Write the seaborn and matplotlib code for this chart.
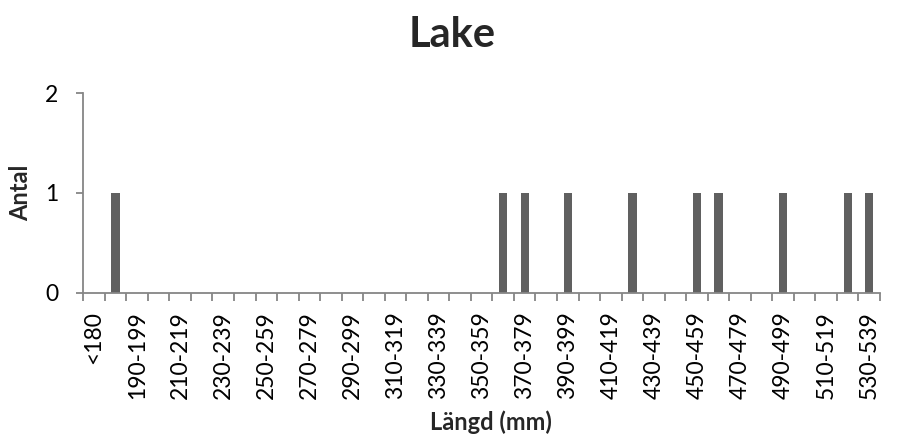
import numpy as np
import pandas as pd
import matplotlib
matplotlib.use("Agg")
import matplotlib.pyplot as plt
import seaborn as sns
from matplotlib.ticker import FixedLocator

# Data
categories = ["<180"] + [f"{a}-{a+9}" for a in range(180, 540, 10)]
counts_nonzero = {"180-189": 1, "360-369": 1, "370-379": 1, "390-399": 1,
                  "420-429": 1, "450-459": 1, "460-469": 1, "490-499": 1,
                  "520-529": 1, "530-539": 1}
counts = [counts_nonzero.get(c, 0) for c in categories]
title = "Lake"
xlabel = "Längd (mm)"
ylabel = "Antal"
yticks = [0, 1, 2]

df = pd.DataFrame({"cat": categories, "n": counts})

sns.set_theme(style="white")
plt.rcParams["font.family"] = ["Lato", "DejaVu Sans"]
plt.rcParams["ytick.major.pad"] = 13
plt.rcParams["ytick.major.size"] = 5
plt.rcParams["xtick.major.pad"] = 13

W, H = 897, 437
fig = plt.figure(figsize=(W / 100, H / 100), dpi=100)
x0, x1 = 83.3, 880.0
y_top, y_bot = 93.3, 292.7
ax = fig.add_axes([x0 / W, 1 - y_bot / H, (x1 - x0) / W, (y_bot - y_top) / H])

sns.barplot(data=df, x="cat", y="n", order=categories, color="#606060",
            saturation=1, width=0.39, ax=ax)
for p in ax.patches:
    p.set_edgecolor("none")

n = len(categories)
ax.set_xlim(-0.5, n - 0.5)
ax.set_ylim(0, 2)
ax.set_yticks(yticks)
ax.set_yticklabels([str(v) for v in yticks])

major = list(range(0, n, 2))
ax.set_xticks(major)
ax.set_xticklabels([categories[i] for i in major], rotation=90)
ax.xaxis.set_minor_locator(FixedLocator(np.arange(-0.5, n, 1.0)))

axis_color = "#868686"
for side in ["top", "right"]:
    ax.spines[side].set_visible(False)
for side in ["left", "bottom"]:
    ax.spines[side].set_color(axis_color)
    ax.spines[side].set_linewidth(1.3)

ax.tick_params(axis="x", which="major", length=0, pad=13, labelsize=16.5, labelcolor="black")
ax.tick_params(axis="x", which="minor", length=6, width=1.3, color=axis_color, direction="out", bottom=True)
ax.tick_params(axis="y", which="major", length=5, width=1.3, color=axis_color, direction="out",
               left=True, pad=13, labelsize=16.5, labelcolor="black")
ax.set_xlabel("")
ax.set_ylabel("")
ax.grid(False)

fig.text(452 / W, 1 - 46.7 / H, title, ha="center", va="baseline", fontsize=30, fontweight="bold")
fig.text(491 / W, 1 - 430 / H, xlabel, ha="center", va="baseline", fontsize=17, fontweight="bold")
fig.text(21 / W, 1 - 193 / H, ylabel, ha="center", va="center", rotation=90, fontsize=17, fontweight="bold")

fig.canvas.draw()
fig.savefig("out.png", dpi=100, facecolor="white")
